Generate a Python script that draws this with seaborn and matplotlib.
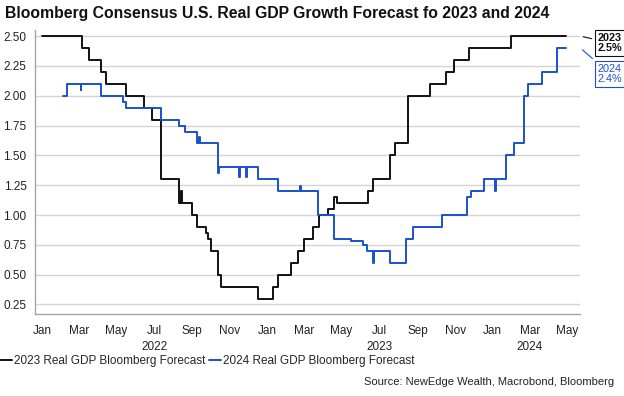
import matplotlib
matplotlib.use('Agg')
import matplotlib.pyplot as plt
import matplotlib.dates as mdates
import seaborn as sns
import pandas as pd

# consensus forecast for 2023 growth (step series)
black_dates = ['2022-01-01', '2022-03-06', '2022-03-17', '2022-04-06', '2022-04-14', '2022-05-16',
               '2022-06-15', '2022-06-28', '2022-07-12', '2022-08-10', '2022-08-14', '2022-08-16',
               '2022-08-31', '2022-09-08', '2022-09-23', '2022-09-27', '2022-10-01', '2022-10-12',
               '2022-10-18', '2022-12-17', '2023-01-10', '2023-01-18', '2023-02-08', '2023-02-19',
               '2023-03-01', '2023-03-16', '2023-03-25', '2023-04-09', '2023-04-19', '2023-04-24',
               '2023-06-13', '2023-06-21', '2023-07-18', '2023-07-27', '2023-08-16', '2023-09-22',
               '2023-10-18', '2023-10-30', '2023-11-23', '2024-01-30', '2024-04-29']
black_vals = [2.5, 2.4, 2.3, 2.2, 2.1, 2.0,
              1.9, 1.8, 1.3, 1.1, 1.2, 1.1,
              1.0, 0.9, 0.85, 0.8, 0.7, 0.5,
              0.4, 0.3, 0.4, 0.5, 0.6, 0.7,
              0.8, 0.9, 1.0, 1.05, 1.15, 1.1,
              1.2, 1.3, 1.5, 1.6, 2.0, 2.1,
              2.2, 2.3, 2.4, 2.5, 2.5]

# consensus forecast for 2024 growth
blue_dates = ['2022-02-04', '2022-02-10', '2022-03-04', '2022-03-05', '2022-04-06', '2022-05-11',
              '2022-05-16', '2022-07-13', '2022-08-10', '2022-08-21', '2022-09-08', '2022-09-12',
              '2022-09-13', '2022-10-12', '2022-10-14', '2022-11-16', '2022-11-17', '2022-11-27',
              '2022-11-28', '2022-12-17', '2023-01-18', '2023-02-23', '2023-02-24', '2023-03-24',
              '2023-04-18', '2023-05-17', '2023-06-05', '2023-06-12', '2023-06-21', '2023-06-22',
              '2023-07-18', '2023-08-14', '2023-08-25', '2023-10-11', '2023-11-21', '2023-11-26',
              '2023-12-18', '2024-01-04', '2024-01-06', '2024-01-23', '2024-02-05', '2024-02-20',
              '2024-02-27', '2024-03-21', '2024-04-15', '2024-04-29']
blue_vals = [2.0, 2.1, 2.05, 2.1, 2.0, 1.95,
             1.9, 1.8, 1.75, 1.7, 1.6, 1.65,
             1.6, 1.35, 1.4, 1.32, 1.4, 1.32,
             1.4, 1.3, 1.2, 1.24, 1.2, 1.0,
             0.8, 0.78, 0.75, 0.7, 0.6, 0.7,
             0.6, 0.8, 0.9, 1.0, 1.15, 1.2,
             1.3, 1.2, 1.3, 1.5, 1.6, 2.0,
             2.1, 2.2, 2.4, 2.4]

yticks = [0.25, 0.50, 0.75, 1.00, 1.25, 1.50, 1.75, 2.00, 2.25, 2.50]
year_labels = ['2022', '2023', '2024']
year_centers = ['2022-07-01', '2023-07-01', '2024-03-01']

BLACK = '#111111'
BLUE = '#1a50d0'

df23 = pd.DataFrame({'date': pd.to_datetime(black_dates), 'value': black_vals})
df24 = pd.DataFrame({'date': pd.to_datetime(blue_dates), 'value': blue_vals})

sns.set_style('white')
plt.rcParams['font.family'] = ['Liberation Sans', 'DejaVu Sans']

fig = plt.figure(figsize=(6.24, 3.96), dpi=100)
ax = fig.add_axes([0.056, 0.207, 0.874, 0.717])

sns.lineplot(data=df23, x='date', y='value', color=BLACK, lw=1.4, drawstyle='steps-post',
             ax=ax, label='2023 Real GDP Bloomberg Forecast', legend=False)
sns.lineplot(data=df24, x='date', y='value', color=BLUE, lw=1.4, drawstyle='steps-post',
             ax=ax, label='2024 Real GDP Bloomberg Forecast', legend=False)

ax.set_xlim(pd.Timestamp('2021-12-20'), pd.Timestamp('2024-05-22'))
ax.set_ylim(0.17, 2.55)
ax.set_yticks(yticks)
ax.set_yticklabels(['%.2f' % v for v in yticks])
ax.yaxis.grid(True, color='#d4d4d4', lw=1)
ax.set_axisbelow(True)
ax.set_xlabel('')
ax.set_ylabel('')

ax.xaxis.set_major_locator(mdates.MonthLocator(bymonth=[1, 3, 5, 7, 9, 11]))
ax.xaxis.set_major_formatter(mdates.DateFormatter('%b'))

for s in ['top', 'right']:
    ax.spines[s].set_visible(False)
for s in ['left', 'bottom']:
    ax.spines[s].set_color('#a6a6a6')
    ax.spines[s].set_linewidth(1)
ax.tick_params(axis='both', labelsize=8.5, colors='#222222', length=3, width=0.8, color='#a6a6a6', pad=3)
ax.tick_params(axis='x', pad=5)

tr = ax.get_xaxis_transform()
for lab, c in zip(year_labels, year_centers):
    ax.text(pd.Timestamp(c), -0.115, lab, transform=tr, ha='center', va='center', fontsize=8.5, color='#222222')

fig.text(0.008, 0.966, 'Bloomberg Consensus U.S. Real GDP Growth Forecast fo 2023 and 2024',
         fontsize=11.3, fontweight='bold', ha='left', va='center', color='#111111')

# end-value callouts
ax.annotate('2023\n2.5%', xy=(1.0, black_vals[-1]), xycoords=('axes fraction', 'data'),
            xytext=(598, 396 - 43), textcoords='figure pixels', ha='left', va='center',
            fontsize=7.8, fontweight='bold', color='#111111', linespacing=1.0,
            bbox=dict(boxstyle='square,pad=0.3', fc='white', ec='#111111', lw=0.8),
            arrowprops=dict(arrowstyle='-', color='#111111', lw=0.8), annotation_clip=False)
ax.annotate('2024\n2.4%', xy=(1.0, blue_vals[-1]), xycoords=('axes fraction', 'data'),
            xytext=(598, 396 - 74), textcoords='figure pixels', ha='left', va='center',
            fontsize=7.8, color=BLUE, linespacing=1.0,
            bbox=dict(boxstyle='square,pad=0.3', fc='white', ec=BLUE, lw=0.8),
            arrowprops=dict(arrowstyle='-', color=BLUE, lw=0.8), annotation_clip=False)

fig.legend(loc='center left', bbox_to_anchor=(0.0, 0.088), ncol=2, frameon=False, fontsize=8.5,
           handlelength=1.0, handletextpad=0.2, columnspacing=0.3, borderaxespad=0, borderpad=0)

fig.text(0.984, 0.036, 'Source: NewEdge Wealth, Macrobond, Bloomberg', ha='right', va='center',
         fontsize=8, color='#222222')

fig.savefig('out.png', dpi=100)
